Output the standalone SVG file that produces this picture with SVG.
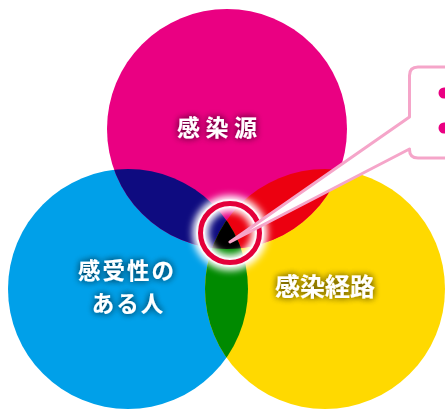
<svg xmlns="http://www.w3.org/2000/svg" width="445" height="410" viewBox="0 0 445 410">
  <style>
    .lbl { font-family: "Noto Sans CJK JP", "Noto Sans", sans-serif; font-weight: bold; fill: #FFFFFF; }
    .callout { fill: #FFFFFF; stroke: #F5A5C9; stroke-width: 3; stroke-linejoin: round; }
  </style>
  <defs>
    <clipPath id="clipM"><circle cx="227" cy="129" r="120"/></clipPath>
    <clipPath id="clipC"><circle cx="128" cy="289" r="120"/></clipPath>
    <clipPath id="clipY"><circle cx="325" cy="289" r="120"/></clipPath>
    <filter id="halo" x="-30%" y="-50%" width="160%" height="200%">
      <feGaussianBlur in="SourceAlpha" stdDeviation="3.5" result="b"/>
      <feFlood flood-color="#000000" flood-opacity="0.45"/>
      <feComposite in2="b" operator="in" result="s"/>
      <feMerge><feMergeNode in="s"/><feMergeNode in="s"/><feMergeNode in="SourceGraphic"/></feMerge>
    </filter>
    <filter id="glow" x="-50%" y="-50%" width="200%" height="200%">
      <feGaussianBlur stdDeviation="3.5"/>
    </filter>
  </defs>

  <g id="node-susceptible">
    <circle cx="128" cy="289" r="120" fill="#00A0E9"/>
  </g>
  <g id="node-route">
    <circle cx="325" cy="289" r="120" fill="#FFD900"/>
  </g>
  <g id="node-source">
    <circle cx="227" cy="129" r="120" fill="#EA0082"/>
  </g>

  <g id="overlaps">
    <circle cx="128" cy="289" r="120" fill="#0E0B80" clip-path="url(#clipM)"/>
    <circle cx="325" cy="289" r="120" fill="#EC0010" clip-path="url(#clipM)"/>
    <circle cx="325" cy="289" r="120" fill="#008A00" clip-path="url(#clipC)"/>
    <g clip-path="url(#clipM)">
      <circle cx="325" cy="289" r="120" fill="#000000" clip-path="url(#clipC)"/>
    </g>
  </g>

  <g id="labels">
    <text class="lbl" font-size="23" filter="url(#halo)" x="177 205.5 234" y="136">感染源</text>
    <text class="lbl" font-size="22.5" letter-spacing="2" filter="url(#halo)" text-anchor="middle" x="127" y="279">感受性の</text>
    <text class="lbl" font-size="22.5" letter-spacing="2" filter="url(#halo)" text-anchor="middle" x="128.5" y="312">ある人</text>
    <text class="lbl" font-size="25" filter="url(#halo)" text-anchor="middle" x="325" y="296">感染経路</text>
  </g>

  <g id="node-center">
    <circle cx="230" cy="233" r="29.5" fill="none" stroke="#FFFFFF" stroke-width="16" filter="url(#glow)"/>
    <circle cx="230" cy="233" r="29.5" fill="none" stroke="#FFFFFF" stroke-width="9" opacity="0.6"/>
    <circle cx="230" cy="233" r="29.5" fill="none" stroke="#E4003A" stroke-width="5"/>
  </g>

  <g id="connectors">
    <path class="callout" d="M 452 67 H 418 Q 409.5 67 409.5 75.5 V 117 L 230 242 L 409.5 149 V 149.5 Q 409.5 158 418 158 H 452 Z"/>
  </g>

  <g id="node-callout">
    <circle cx="444" cy="93" r="5.5" fill="#EA0082"/>
    <circle cx="444" cy="128" r="5.5" fill="#EA0082"/>
  </g>
</svg>
